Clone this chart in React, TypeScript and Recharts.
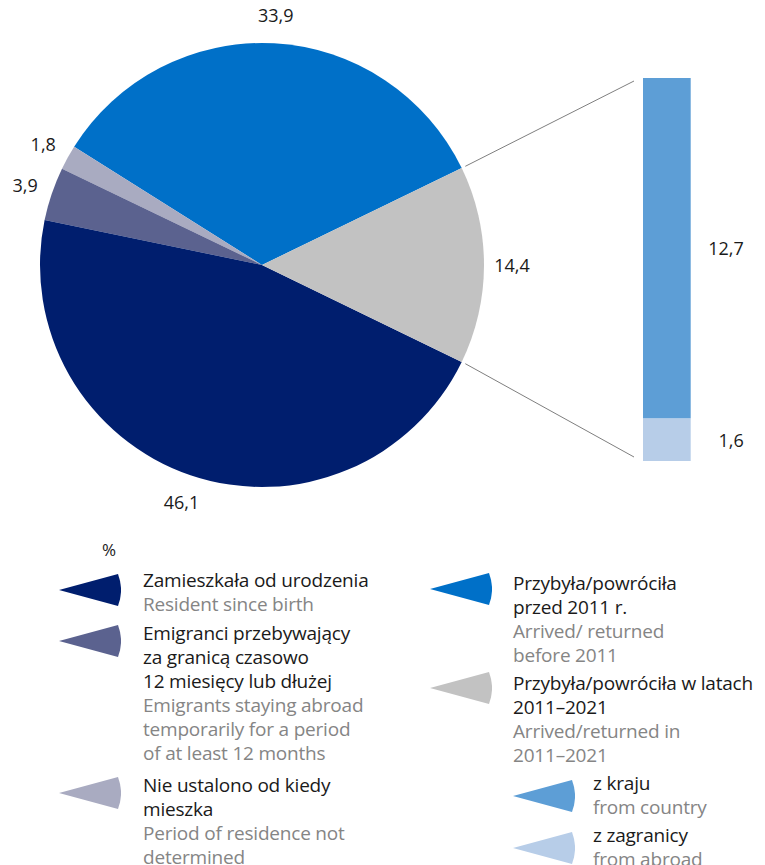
import { Bar, BarChart, Cell, LabelList, Pie, PieChart, XAxis, YAxis } from 'recharts';

const SLICE_NAMES = ['before2011', 'unknown', 'emigrants', 'sinceBirth', 'in2011_2021'];
const SLICE_VALUES = [33.9, 1.8, 3.9, 46.1, 14.4];
const SLICE_COLORS = ['#0070c8', '#a9abc1', '#5b628f', '#001e6e', '#c2c2c2'];

const SPLIT_NAMES = ['fromAbroad', 'fromCountry'];
const SPLIT_VALUES = [1.6, 12.7];
const SPLIT_COLORS = ['#b7cde8', '#5d9ed6'];

const FONT = '"Open Sans", "Noto Sans", sans-serif';

const CX = 262;
const CY = 265;
const R = 222;
const GRAY_SHARE = SLICE_VALUES[4] / SLICE_VALUES.reduce((a, b) => a + b, 0);
const START = (GRAY_SHARE * 360) / 2;

const pieData = SLICE_NAMES.map((name, i) => ({ name, value: SLICE_VALUES[i] }));
const barData = [
  SPLIT_NAMES.reduce((row, name, i) => ({ ...row, [name]: SPLIT_VALUES[i] }), { name: 'split' } as Record<string, number | string>),
];

const BAR_LEFT = 640;
const BAR_W = 53;
const BAR_TOP = 78;
const BAR_BOTTOM = 461;

const fmt = (v: number) => String(v).replace('.', ',');

const RADIAN = Math.PI / 180;

function PieLabel(props: any) {
  const { cx, cy, outerRadius, midAngle, value } = props;
  const r = outerRadius + 28;
  const x = cx + r * Math.cos(-midAngle * RADIAN);
  const y = cy + r * Math.sin(-midAngle * RADIAN);
  return (
    <text x={x} y={y} textAnchor="middle" dominantBaseline="central" fill="#1a1a1a" fontSize={18} fontFamily={FONT}>
      {fmt(value)}
    </text>
  );
}

function BarLabel(props: any) {
  const { x, y, width, height, value } = props;
  return (
    <text x={x + width + 53} y={y + height / 2} textAnchor="end" dominantBaseline="central" fill="#1a1a1a" fontSize={18} fontFamily={FONT}>
      {fmt(value)}
    </text>
  );
}

type LegendEntry = { pl: string[]; en: string[]; color: string; left: number; top: number; iconDy: number; textDx: number };

const LEGEND: LegendEntry[] = [
  { pl: ['Zamieszkała od urodzenia'], en: ['Resident since birth'], color: SLICE_COLORS[3], left: 59, top: 568, iconDy: 5, textDx: 84 },
  { pl: ['Emigranci przebywający', 'za granicą czasowo', '12 miesięcy lub dłużej'], en: ['Emigrants staying abroad', 'temporarily for a period', 'of at least 12 months'], color: SLICE_COLORS[2], left: 59, top: 621, iconDy: 3, textDx: 84 },
  { pl: ['Nie ustalono od kiedy', 'mieszka'], en: ['Period of residence not', 'determined'], color: SLICE_COLORS[1], left: 59, top: 773, iconDy: 3, textDx: 84 },
  { pl: ['Przybyła/powróciła', 'przed 2011 r.'], en: ['Arrived/ returned', 'before 2011'], color: SLICE_COLORS[0], left: 430, top: 571, iconDy: 1, textDx: 83 },
  { pl: ['Przybyła/powróciła w latach', '2011–2021'], en: ['Arrived/returned in', '2011–2021'], color: SLICE_COLORS[4], left: 430, top: 671, iconDy: 0, textDx: 83 },
  { pl: ['z kraju'], en: ['from country'], color: SPLIT_COLORS[1], left: 513, top: 771, iconDy: 8, textDx: 80 },
  { pl: ['z zagranicy'], en: ['from abroad'], color: SPLIT_COLORS[0], left: 513, top: 823, iconDy: 8, textDx: 80 },
];

function Wedge({ color }: { color: string }) {
  return (
    <svg width={62} height={34} style={{ display: 'block' }}>
      <path d="M 0 17 L 59 1 A 45 45 0 0 1 59 33 Z" fill={color} />
    </svg>
  );
}

export default function App() {
  const a1 = START * RADIAN;
  const topStart = { x: CX + (R + 4) * Math.cos(a1), y: CY - (R + 4) * Math.sin(a1) };
  const botStart = { x: CX + (R + 4) * Math.cos(a1), y: CY + (R + 4) * Math.sin(a1) };

  return (
    <div style={{ position: 'absolute', left: 0, top: 0, width: 765, height: 865, background: '#fff', fontFamily: FONT, overflow: 'hidden' }}>
      <div style={{ position: 'absolute', left: 0, top: 0 }}>
        <PieChart width={560} height={530} margin={{ top: 0, right: 0, bottom: 0, left: 0 }}>
          <Pie
            data={pieData}
            dataKey="value"
            nameKey="name"
            cx={CX}
            cy={CY}
            outerRadius={R}
            startAngle={START}
            endAngle={START + 360}
            stroke="none"
            label={PieLabel}
            labelLine={false}
            isAnimationActive={false}
          >
            {pieData.map((d, i) => (
              <Cell key={d.name} fill={SLICE_COLORS[i]} />
            ))}
          </Pie>
        </PieChart>
      </div>

      <div style={{ position: 'absolute', left: BAR_LEFT - 40, top: 0 }}>
        <BarChart
          width={BAR_W + 40 + 72}
          height={530}
          data={barData}
          margin={{ top: BAR_TOP, bottom: 530 - BAR_BOTTOM, left: 40, right: 72 }}
          barCategoryGap={0}
        >
          <XAxis dataKey="name" hide />
          <YAxis hide domain={[0, SPLIT_VALUES[0] + SPLIT_VALUES[1]]} />
          {SPLIT_NAMES.map((name, i) => (
            <Bar key={name} dataKey={name} stackId="s" fill={SPLIT_COLORS[i]} barSize={BAR_W} isAnimationActive={false}>
              <LabelList dataKey={name} content={BarLabel} />
            </Bar>
          ))}
        </BarChart>
      </div>

      <svg width={765} height={530} style={{ position: 'absolute', left: 0, top: 0, pointerEvents: 'none' }}>
        <line x1={topStart.x} y1={topStart.y} x2={BAR_LEFT - 6} y2={BAR_TOP + 3} stroke="#7f7f7f" strokeWidth={1} />
        <line x1={botStart.x} y1={botStart.y} x2={BAR_LEFT - 6} y2={BAR_BOTTOM - 4} stroke="#7f7f7f" strokeWidth={1} />
      </svg>

      <div style={{ position: 'absolute', left: 102, top: 538, fontSize: 17, color: '#1a1a1a' }}>%</div>

      {LEGEND.map((e) => (
        <div key={e.pl[0]} style={{ position: 'absolute', left: e.left, top: e.top }}>
          <div style={{ position: 'absolute', left: 0, top: e.iconDy }}>
            <Wedge color={e.color} />
          </div>
          <div style={{ position: 'absolute', left: e.textDx, top: 0, fontSize: 19, lineHeight: '24px', whiteSpace: 'nowrap', letterSpacing: -0.2 }}>
            {e.pl.map((t) => (
              <div key={t} style={{ color: '#1a1a1a' }}>{t}</div>
            ))}
            {e.en.map((t) => (
              <div key={t} style={{ color: '#858585' }}>{t}</div>
            ))}
          </div>
        </div>
      ))}
    </div>
  );
}
